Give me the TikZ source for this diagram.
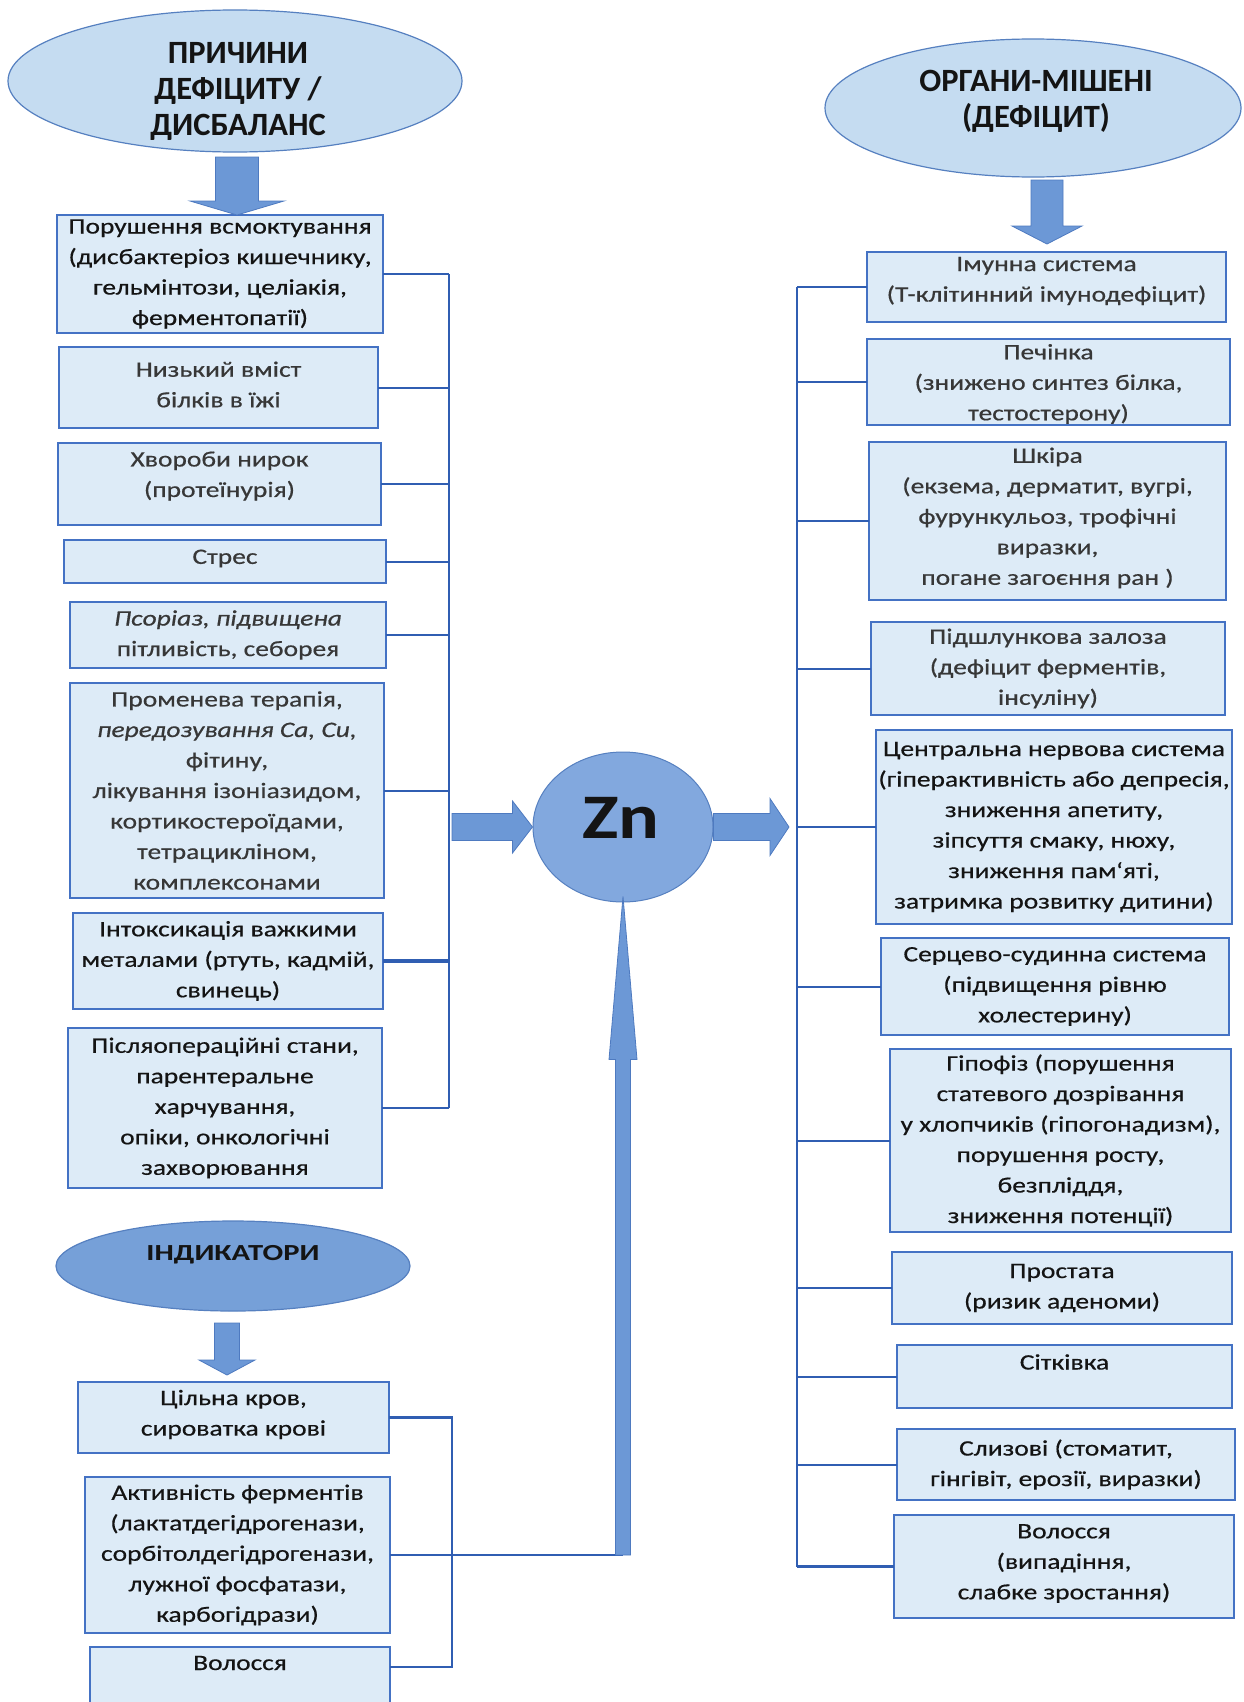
\documentclass[tikz,border=0pt]{standalone}
\usepackage{fontspec}
\setmainfont{Carlito}[FakeStretch=1.25,FakeBold=0.5]
\newfontfamily\ttlfont{Carlito}[FakeStretch=1.0]
\newfontfamily\indfont{Carlito}[FakeStretch=1.33]
\newfontfamily\znfont{Carlito}[FakeStretch=1.2]
\usetikzlibrary{shapes.geometric,calc}
\definecolor{boxfill}{RGB}{221,235,247}
\definecolor{boxline}{RGB}{68,114,196}
\definecolor{connblue}{RGB}{48,94,178}
\definecolor{ellfill}{RGB}{197,220,241}
\definecolor{ellline}{RGB}{86,128,192}
\definecolor{indfill}{RGB}{118,160,216}
\definecolor{znfill}{RGB}{130,168,222}
\definecolor{arrfill}{RGB}{108,152,214}
\definecolor{arrline}{RGB}{78,122,192}
\definecolor{txtdark}{RGB}{20,20,20}
\definecolor{txtgray}{RGB}{55,55,55}
\newcommand\bxnode[5]{\node[box,minimum width={(#4-#2)*1pt},minimum height={(#5-#3)*1pt}] (#1) at ({(#2+#4)/2},{(#3+#5)/2}) {};}
% block arrows: #1 start, #2 tip, #3 shaft half width, #4 head half width, #5 head length
\newcommand\dnblk[5]{\filldraw[blk] ($(#1)+(-#3,0)$) -- ($(#1|-#2)+(-#3,-#5)$) -- ($(#1|-#2)+(-#4,-#5)$) -- (#1|-#2) -- ($(#1|-#2)+(#4,-#5)$) -- ($(#1|-#2)+(#3,-#5)$) -- ($(#1)+(#3,0)$) -- cycle;}
\newcommand\upblk[5]{\filldraw[blk] ($(#1)+(-#3,0)$) -- ($(#1|-#2)+(-#3,#5)$) -- ($(#1|-#2)+(-#4,#5)$) -- (#1|-#2) -- ($(#1|-#2)+(#4,#5)$) -- ($(#1|-#2)+(#3,#5)$) -- ($(#1)+(#3,0)$) -- cycle;}
\newcommand\rtblk[5]{\filldraw[blk] ($(#1)+(0,-#3)$) -- ($(#2|-#1)+(-#5,-#3)$) -- ($(#2|-#1)+(-#5,-#4)$) -- (#2|-#1) -- ($(#2|-#1)+(-#5,#4)$) -- ($(#2|-#1)+(-#5,#3)$) -- ($(#1)+(0,#3)$) -- cycle;}
\begin{document}
\begin{tikzpicture}[x=1pt,y=-1pt,
  box/.style={rectangle,draw=boxline,fill=boxfill,line width=1.9pt,inner sep=0pt,outer sep=0pt},
  txt/.style={align=center,inner sep=0pt,text=txtdark,font=\fontsize{22}{30.5}\selectfont},
  txtg/.style={txt,text=txtgray},
  conn/.style={draw=connblue,line width=2pt},
  connthick/.style={conn,line width=3.2pt},
  bus/.style={conn,line width=2.5pt},
  elltop/.style={ellipse,draw=ellline,fill=ellfill,line width=1.2pt,inner sep=0pt},
  ttl/.style={align=center,inner sep=0pt,text=txtdark,font=\ttlfont\fontsize{32.5}{36}\selectfont\bfseries},
  blk/.style={fill=arrfill,draw=arrline,line width=0.8pt,line join=miter}]
\fill[white,use as bounding box] (0,0) rectangle (1244,1702);
\coordinate (busL) at (449,0);
\coordinate (busR) at (797,0);
\coordinate (busI) at (452,0);

% ---------- boxes ----------
\bxnode{L1}{57}{215}{383}{333}
\bxnode{L2}{59}{347}{378}{428}
\bxnode{L3}{58}{443}{381}{525}
\bxnode{L4}{64}{540}{386}{583}
\bxnode{L5}{70}{602}{386}{668}
\bxnode{L6}{70}{683}{384}{898}
\bxnode{L7}{73}{913}{383}{1009}
\bxnode{L8}{68}{1028}{382}{1188}
\bxnode{I1}{78}{1382}{389}{1453}
\bxnode{I2}{85}{1477}{390}{1633}
\bxnode{I3}{90}{1647}{390}{1730}
\bxnode{R1}{867}{252}{1226}{322}
\bxnode{R2}{867}{339}{1230}{425}
\bxnode{R3}{869}{442}{1226}{600}
\bxnode{R4}{871}{622}{1225}{715}
\bxnode{R5}{876}{730}{1232}{924}
\bxnode{R6}{881}{938}{1229}{1035}
\bxnode{R7}{890}{1049}{1231}{1232}
\bxnode{R8}{892}{1252}{1232}{1324}
\bxnode{R9}{897}{1345}{1232}{1408}
\bxnode{R10}{897}{1429}{1235}{1500}
\bxnode{R11}{894}{1515}{1234}{1618}

% ---------- ellipses ----------
\node[elltop,minimum width=454pt,minimum height=142pt] (e1) at (235,81) {};
\node[ttl] (e1t) at (238,91) {ПРИЧИНИ\\ДЕФІЦИТУ /\\ДИСБАЛАНС};
\node[elltop,minimum width=416pt,minimum height=138pt] (e2) at (1033,108) {};
\node[ttl] (e2t) at (1036,101) {ОРГАНИ-МІШЕНІ\\(ДЕФІЦИТ)};
\node[ellipse,draw=ellline,fill=indfill,line width=1.2pt,inner sep=0pt,minimum width=354pt,minimum height=90pt] (e3) at (233,1266) {};
\node[inner sep=0pt,text=txtdark,font=\indfont\fontsize{23}{28}\selectfont\bfseries] (e3t) at (233,1255) {ІНДИКАТОРИ};
\node[ellipse,draw=ellline,fill=znfill,line width=1pt,inner sep=0pt,minimum width=180pt,minimum height=150pt] (zn) at (623,827) {};
\node[inner sep=0pt,text=txtdark,font=\znfont\fontsize{63.5}{66}\selectfont\bfseries] (znt) at (621,818) {Zn};

% ---------- connectors ----------
\foreach \b in {L1,L2,L3,L4,L5,L6,L8} \draw[conn] (\b.east) -- (\b.east -| busL);
\draw[connthick] (L7.east) -- (L7.east -| busL);
\draw[bus] (L1.east -| busL) -- (L8.east -| busL);
\foreach \b in {R1,R2,R3,R4,R5,R6,R7,R8,R9,R10} \draw[conn] (\b.west) -- (\b.west -| busR);
\draw[connthick] (R11.west) -- (R11.west -| busR);
\draw[bus] (R1.west -| busR) -- (R11.west -| busR);
\coordinate (I3c) at ($(I3.north east)+(0,20)$);
\draw[conn,line width=2.3pt] (I1.east) -- (I1.east -| busI) -- (I3c -| busI) -- (I3c);
\coordinate (upb) at (zn.south |- I2.east);
\draw[conn] (I2.east) -- (upb);

% ---------- block arrows ----------
\coordinate (a1s) at (237,157);
\dnblk{a1s}{L1.north}{21.5}{47}{14}
\coordinate (a2s) at (1047,180);
\coordinate (a2t) at ($(a2s|-R1.north)+(0,-8)$);
\dnblk{a2s}{a2t}{16}{35}{18}
\coordinate (a3s) at (227,1323);
\coordinate (a3t) at ($(a3s|-I1.north)+(0,-7)$);
\dnblk{a3s}{a3t}{12.5}{28}{15}
\coordinate (zlA) at ($(busL|-zn)+(3,0)$);
\rtblk{zlA}{zn.west}{13.5}{26}{20}
\coordinate (zrT) at ($(busR|-zn)+(-8,0)$);
\rtblk{zn.east}{zrT}{13.5}{28.5}{19}
\coordinate (upt) at ($(zn.south)+(0,-6)$);
\upblk{upb}{upt}{7.5}{14}{163}

% ---------- texts ----------
\node[txt] (L1t) at (L1) {Порушення всмоктування\\(дисбактеріоз кишечнику,\\гельмінтози, целіакія,\\ферментопатії)};
\node[txtg,yshift=3pt] (L2t) at (L2) {Низький вміст\\білків в їжі};
\node[txtg,yshift=8pt] (L3t) at (L3) {Хвороби нирок\\(протеїнурія)};
\node[txtg,yshift=3pt] (L4t) at (L4) {Стрес};
\node[txtg] (L5t) at (L5) {\textit{Псоріаз, підвищена}\\пітливість, себорея};
\node[txtg] (L6t) at (L6) {Променева терапія,\\\textit{передозування Ca, Cu,}\\фітину,\\лікування ізоніазидом,\\кортикостероїдами,\\тетрацикліном,\\комплексонами};
\node[txt] (L7t) at (L7) {Інтоксикація важкими\\металами (ртуть, кадмій,\\свинець)};
\node[txt] (L8t) at (L8) {Післяопераційні стани,\\парентеральне\\харчування,\\опіки, онкологічні\\захворювання};
\node[txt,yshift=3pt] (I1t) at (I1) {Цільна кров,\\сироватка крові};
\node[txt] (I2t) at (I2) {Активність ферментів\\(лактатдегідрогенази,\\сорбітолдегідрогенази,\\лужної фосфатази,\\карбогідрази)};
\node[txt] (I3t) at ($(I3.north)+(0,16)$) {Волосся};
\node[txtg,yshift=6pt] (R1t) at (R1) {Імунна система\\(Т-клітинний імунодефіцит)};
\node[txtg,yshift=-2pt] (R2t) at (R2) {Печінка\\(знижено синтез білка,\\тестостерону)};
\node[txtg,yshift=3pt] (R3t) at (R3) {Шкіра\\(екзема, дерматит, вугрі,\\фурункульоз, трофічні\\виразки,\\погане загоєння ран )};
\node[txtg] (R4t) at (R4) {Підшлункова залоза\\(дефіцит ферментів,\\інсуліну)};
\node[txt] (R5t) at (R5) {Центральна нервова система\\(гіперактивність або депресія,\\зниження апетиту,\\зіпсуття смаку, нюху,\\зниження пам`яті,\\затримка розвитку дитини)};
\node[txt] (R6t) at (R6) {Серцево-судинна система\\(підвищення рівню\\холестерину)};
\node[txt] (R7t) at (R7) {Гіпофіз (порушення\\статевого дозрівання\\у хлопчиків (гіпогонадизм),\\порушення росту,\\безпліддя,\\зниження потенції)};
\node[txt] (R8t) at (R8) {Простата\\(ризик аденоми)};
\node[txt] (R9t) at ($(R9.north)+(0,17)$) {Сітківка};
\node[txt] (R10t) at (R10) {Слизові (стоматит,\\гінгівіт, ерозії, виразки)};
\node[txt,yshift=3pt] (R11t) at (R11) {Волосся\\(випадіння,\\слабке зростання)};
\end{tikzpicture}
\end{document}
